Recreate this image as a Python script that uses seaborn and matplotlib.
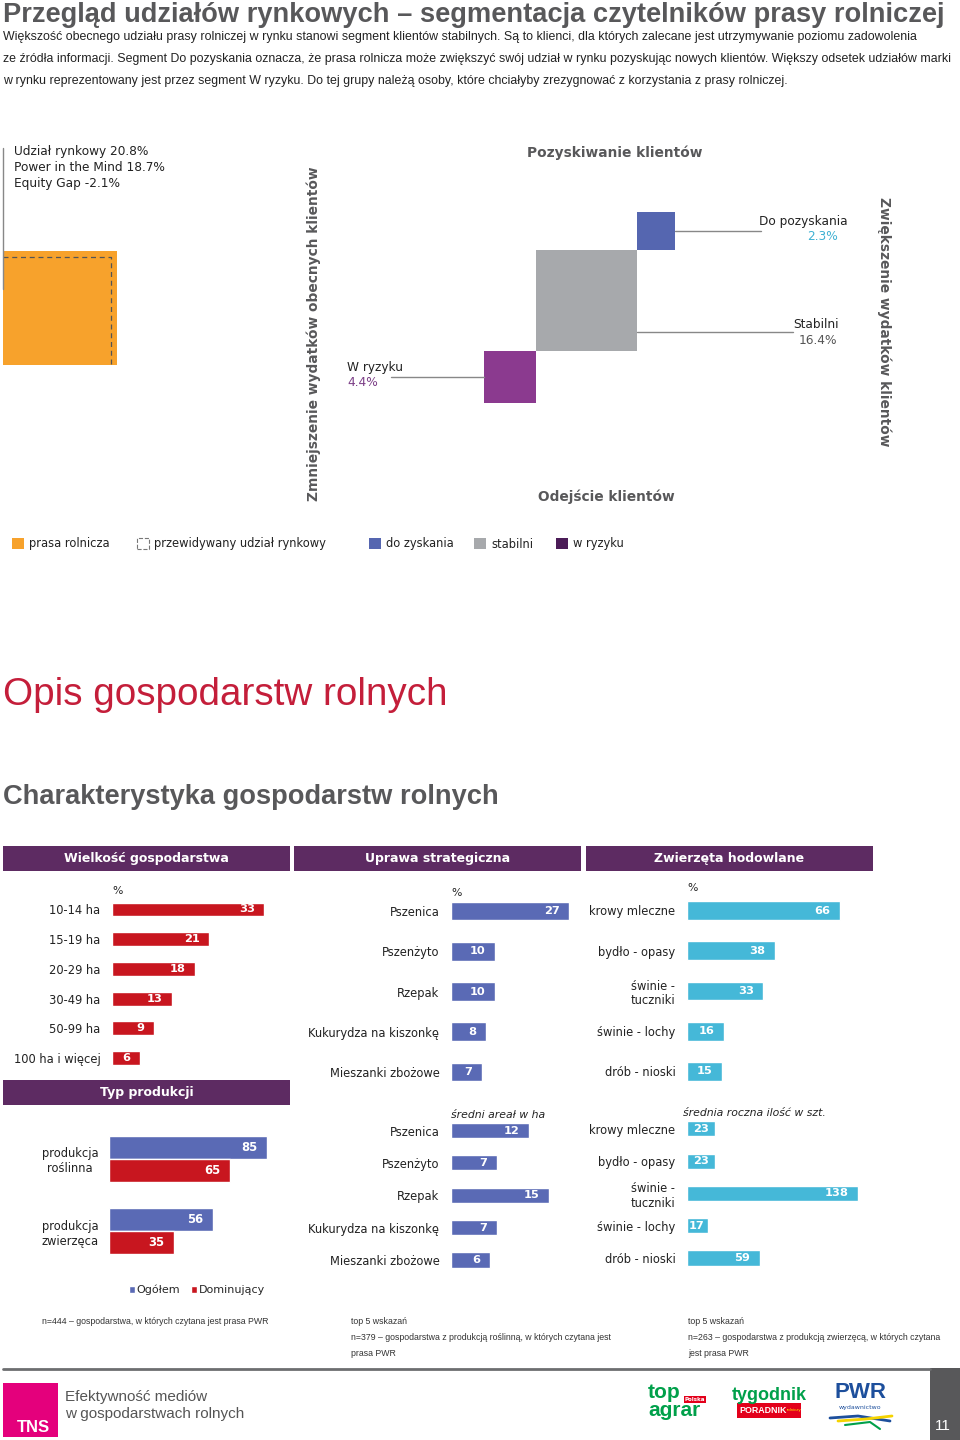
import numpy as np
import pandas as pd
import seaborn as sns
import matplotlib.pyplot as plt
from matplotlib.patches import Rectangle, Patch

sns.set_theme(style='white')
plt.rcParams['font.family'] = ['DejaVu Sans']
SANS = ['Liberation Sans', 'DejaVu Sans']   # stands in for the condensed headline face

# ---- data ----
title = 'Przegląd udziałów rynkowych – segmentacja czytelników prasy rolniczej'
intro = [
    'Większość obecnego udziału prasy rolniczej w rynku stanowi segment klientów stabilnych. Są to klienci, dla których zalecane jest utrzymywanie poziomu zadowolenia',
    'ze źródła informacji. Segment Do pozyskania oznacza, że prasa rolnicza może zwiększyć swój udział w rynku pozyskując nowych klientów. Większy odsetek udziałów marki',
    'w rynku reprezentowany jest przez segment W ryzyku. Do tej grupy należą osoby, które chciałyby zrezygnować z korzystania z prasy rolniczej.',
]

udzial_rynkowy = 20.8
power_in_mind = 18.7
equity_gap = -2.1
segment_names = ['W ryzyku', 'Stabilni', 'Do pozyskania']
segment_shares = [4.4, 16.4, 2.3]
segment_colors = ['#8b3a8f', '#a7a9ac', '#5566b0']

legend_labels = ['prasa rolnicza', 'przewidywany udział rynkowy', 'do zyskania', 'stabilni', 'w ryzyku']

wielkosc_labels = ['10-14 ha', '15-19 ha', '20-29 ha', '30-49 ha', '50-99 ha', '100 ha i więcej']
wielkosc_values = [33, 21, 18, 13, 9, 6]

uprawa_labels = ['Pszenica', 'Pszenżyto', 'Rzepak', 'Kukurydza na kiszonkę', 'Mieszanki zbożowe']
uprawa_pct = [27, 10, 10, 8, 7]
uprawa_areal = [12, 7, 15, 7, 6]

zwierzeta_labels = ['krowy mleczne', 'bydło - opasy', 'świnie -\ntuczniki', 'świnie - lochy', 'drób - nioski']
zwierzeta_pct = [66, 38, 33, 16, 15]
zwierzeta_szt = [23, 23, 138, 17, 59]

produkcja_labels = ['produkcja\nroślinna', 'produkcja\nzwierzęca']
produkcja_ogolem = [85, 56]
produkcja_dominujacy = [65, 35]

footnotes = [
    ['n=444 – gospodarstwa, w których czytana jest prasa PWR'],
    ['top 5 wskazań', 'n=379 – gospodarstwa z produkcją roślinną, w których czytana jest', 'prasa PWR'],
    ['top 5 wskazań', 'n=263 – gospodarstwa z produkcją zwierzęcą, w których czytana', 'jest prasa PWR'],
]

RED = '#c8161f'
BLUE = '#5a6ab5'
CYAN = '#45b8d8'
HEAD = '#5d2b62'
ORANGE = '#f7a22c'
GREY_TXT = '#58585a'

W, H = 960, 1440
fig = plt.figure(figsize=(9.6, 14.4), dpi=100)


def fx(x):
    return x / W


def fy(y):
    return 1 - y / H


def axes_px(x0, y0, x1, y1):
    ax = fig.add_axes([x0 / W, 1 - y1 / H, (x1 - x0) / W, (y1 - y0) / H])
    ax.patch.set_visible(False)
    return ax


def ftext(x, y, s, **kw):
    kw.setdefault('va', 'center')
    return fig.text(fx(x), fy(y), s, **kw)


# ---- header text ----
ftext(3, 22, title, fontsize=19.6, fontweight='bold', color=GREY_TXT, family=SANS, va='baseline')
for i, line in enumerate(intro):
    ftext(3, 37 + 22 * i, line, fontsize=8.95, color='#222222', family=SANS)

# ---- segmentation squares (side ~ sqrt of share) ----
S = 24.9  # px per sqrt(%)
ax = axes_px(0, 130, 960, 520)
ax.set_xlim(-484 / S, (960 - 484) / S)
ax.set_ylim((403 - 520) / S, (403 - 130) / S)
ax.axis('off')

sides = np.sqrt(segment_shares)
starts = np.concatenate([[0], np.cumsum(sides)[:-1]])
for st, sd, c in zip(starts, sides, segment_colors):
    ax.add_patch(Rectangle((st, st), sd, sd, color=c, lw=0))

ox, oy = (3 - 484) / S, (403 - 365) / S
so = np.sqrt(udzial_rynkowy)
ax.add_patch(Rectangle((ox, oy), so, so, color=ORANGE, lw=0))
sp = np.sqrt(power_in_mind)
ax.plot([ox, ox + sp, ox + sp], [oy + sp, oy + sp, oy], color='#555555', lw=0.9, ls=(0, (4, 3)))
ax.plot([ox, ox], [(403 - 289) / S, (403 - 148) / S], color='#888888', lw=1)

line_kw = dict(color='#888888', lw=1)
ax.plot([(391 - 484) / S, 0], [starts[0] + sides[0] / 2] * 2, **line_kw)
ax.plot([starts[2] + sides[2], (761 - 484) / S], [starts[2] + sides[2] / 2] * 2, **line_kw)
ax.plot([starts[1] + sides[1], (793 - 484) / S], [starts[1] + sides[1] * 0.19] * 2, **line_kw)

seg_fs = 8.7
ftext(14, 152, f'Udział rynkowy {udzial_rynkowy}%', fontsize=seg_fs, color='#222')
ftext(14, 167.5, f'Power in the Mind {power_in_mind}%', fontsize=seg_fs, color='#222')
ftext(14, 183, f'Equity Gap {equity_gap}%', fontsize=seg_fs, color='#222')

ftext(347, 367, segment_names[0], fontsize=seg_fs, color='#222')
ftext(347, 382, f'{segment_shares[0]}%', fontsize=seg_fs, color='#7b3d86')
ftext(848, 222, segment_names[2], fontsize=seg_fs, color='#222', ha='right')
ftext(838, 237, f'{segment_shares[2]}%', fontsize=seg_fs, color='#3fb1d3', ha='right')
ftext(839, 324, segment_names[1], fontsize=seg_fs, color='#222', ha='right')
ftext(837, 340, f'{segment_shares[1]}%', fontsize=seg_fs, color='#555', ha='right')

bold_kw = dict(fontsize=9.9, fontweight='bold', color=GREY_TXT)
ftext(615, 153, 'Pozyskiwanie klientów', ha='center', **bold_kw)
ftext(606, 497, 'Odejście klientów', ha='center', **bold_kw)
ftext(314, 334, 'Zmniejszenie wydatków obecnych klientów', ha='center', rotation=90, **bold_kw)
ftext(884, 322, 'Zwiększenie wydatków klientów', ha='center', rotation=270, **bold_kw)

leg_handles = [
    Patch(facecolor=ORANGE, edgecolor='none'),
    Patch(facecolor='white', edgecolor='#777777', linestyle='--', lw=0.8),
    Patch(facecolor='#5566b0', edgecolor='none'),
    Patch(facecolor='#a7a9ac', edgecolor='none'),
    Patch(facecolor='#4b1c57', edgecolor='none'),
]
for xpos, h, lab in zip([12, 137, 369, 474, 556], leg_handles, legend_labels):
    fig.legend([h], [lab], loc='center left', bbox_to_anchor=(fx(xpos), fy(544)),
               frameon=False, fontsize=8.3, handlelength=1.0, handleheight=1.0,
               handletextpad=0.5, borderpad=0, borderaxespad=0, labelcolor='#222')

# ---- section headings ----
ftext(3, 695, 'Opis gospodarstw rolnych', fontsize=27.8, color='#c41e3a', family=SANS)
ftext(3, 797, 'Charakterystyka gospodarstw rolnych', fontsize=19.6, fontweight='bold',
      color=GREY_TXT, family=SANS)

for (x0, x1, y0, y1, txt) in [(3, 290, 846, 871, 'Wielkość gospodarstwa'),
                              (294, 581, 846, 871, 'Uprawa strategiczna'),
                              (586, 873, 846, 871, 'Zwierzęta hodowlane'),
                              (3, 290, 1080, 1105, 'Typ produkcji')]:
    hx = axes_px(x0, y0, x1, y1)
    hx.patch.set_visible(True)
    hx.set_facecolor(HEAD)
    hx.set_xticks([])
    hx.set_yticks([])
    for s in hx.spines.values():
        s.set_visible(False)
    hx.text(0.5, 0.5, txt, transform=hx.transAxes, ha='center', va='center',
            color='white', fontweight='bold', fontsize=9)


def value_labels(ax, px_unit, size=8.2):
    for cont in ax.containers:
        for p in cont:
            v = p.get_width()
            txt = f'{v:.0f}'
            bar_px = v * px_unit
            text_px = 7.4 * len(txt)
            pad_px = min(9.5, max(1.5, (bar_px - text_px) / 2))
            ax.annotate(txt, (v, p.get_y() + p.get_height() / 2),
                        xytext=(-pad_px * 0.72, 0), textcoords='offset points', ha='right',
                        va='center', color='white', fontweight='bold', fontsize=size)


def style_axis(ax, pad):
    ax.set_xlabel('')
    ax.set_ylabel('')
    ax.set_xticks([])
    sns.despine(ax=ax, left=True, bottom=True)
    ax.tick_params(axis='y', length=0, pad=pad, labelsize=8.3, labelcolor='#222')
    for t in ax.get_yticklabels():
        t.set_multialignment('center')


def hbar(x0, x1, c0, c1, labels, values, color, px_unit, pad=8.3, note=None, note_dx=0,
         note_style='normal', note_dy=2):
    n = len(labels)
    step = (c1 - c0) / (n - 1)
    ax = axes_px(x0, c0 - step / 2, x1, c1 + step / 2)
    df = pd.DataFrame({'label': labels, 'value': values})
    sns.barplot(data=df, y='label', x='value', color=color, orient='h', width=0.47,
                saturation=1, ax=ax)
    ax.set_xlim(0, (x1 - x0) / px_unit)
    style_axis(ax, pad)
    value_labels(ax, px_unit)
    if note:
        ax.annotate(note, (0, 1), xycoords='axes fraction', xytext=(note_dx, note_dy),
                    textcoords='offset points', ha='left', va='bottom', fontsize=7.8,
                    style=note_style, color='#222')
    return ax


hbar(112, 290, 909.5, 1058, wielkosc_labels, wielkosc_values, RED, 4.62, note='%', note_dy=-1)
hbar(451, 581, 911, 1072, uprawa_labels, uprawa_pct, BLUE, 4.38, note='%', note_dy=-5)
hbar(687, 873, 910.5, 1071.5, zwierzeta_labels, zwierzeta_pct, CYAN, 2.318, note='%', note_dy=-2)
hbar(451, 581, 1130.5, 1260, uprawa_labels, uprawa_areal, BLUE, 6.5,
     note='średni areał w ha', note_style='italic', note_dy=-4)
hbar(687, 873, 1128.8, 1258, zwierzeta_labels, zwierzeta_szt, CYAN, 1.236,
     note='średnia roczna ilość w szt.', note_style='italic', note_dx=-3, note_dy=-4)

# typ produkcji - grouped bars
prod = pd.DataFrame({
    'label': produkcja_labels * 2,
    'value': produkcja_ogolem + produkcja_dominujacy,
    'grupa': ['Ogółem'] * 2 + ['Dominujący'] * 2,
})
step = 72.3
axp = axes_px(109, 1159 - step / 2, 290, 1231.3 + step / 2)
sns.barplot(data=prod, y='label', x='value', hue='grupa', palette=[BLUE, RED], orient='h',
            width=0.64, saturation=1, ax=axp)
axp.set_xlim(0, (290 - 109) / 1.855)
style_axis(axp, 7.5)
value_labels(axp, 1.855, size=8.4)
sns.move_legend(axp, 'center', bbox_to_anchor=(fx(197), fy(1290)), bbox_transform=fig.transFigure,
                ncol=2, frameon=False, title=None, fontsize=8, handlelength=0.55, handleheight=0.55,
                handletextpad=0.15, columnspacing=1.0)

# ---- footnotes ----
for x, lines in zip([42, 351, 688], footnotes):
    for i, line in enumerate(lines):
        ftext(x, 1322 + 15.5 * i, line, fontsize=6.3, color='#333', family=SANS)

# ---- footer ----
fax = axes_px(0, 1360, 960, 1440)
fax.set_xlim(0, 960)
fax.set_ylim(1440, 1360)
fax.axis('off')
fax.plot([3, 930], [1369, 1369], color='#6d6e70', lw=2)
fax.add_patch(Rectangle((930, 1368), 30, 72, color='#58585a', lw=0))
fax.text(943, 1426, '11', color='white', fontsize=11, ha='center', va='center', family=SANS)
fax.add_patch(Rectangle((3, 1383), 55, 54, color='#e4007c', lw=0))
fax.text(17, 1428, 'TNS', color='white', fontsize=12, fontweight='bold', ha='left', va='center',
         family=SANS)
fax.text(65, 1397, 'Efektywność mediów', color='#555', fontsize=11, va='center', family=SANS)
fax.text(65, 1414, 'w gospodarstwach rolnych', color='#555', fontsize=11, va='center', family=SANS)

GREEN = '#00a04a'
fax.text(648, 1393, 'top', color=GREEN, fontsize=15, fontweight='bold', va='center', family=SANS)
fax.text(648, 1410, 'agrar', color=GREEN, fontsize=15, fontweight='bold', va='center', family=SANS)
fax.add_patch(Rectangle((684, 1396), 22, 7, color='#e3001b', lw=0))
fax.text(695, 1399.5, 'Polska', color='white', fontsize=4, fontweight='bold', ha='center', va='center')
fax.text(769, 1395, 'tygodnik', color=GREEN, fontsize=13, fontweight='bold', ha='center', va='center',
         family=SANS)
fax.add_patch(Rectangle((737, 1403), 64, 15, color='#e3001b', lw=0))
fax.text(739, 1410.5, 'PORADNIK', color='white', fontsize=6.4, fontweight='bold', va='center',
         family=SANS)
fax.text(787, 1410.5, 'rolniczy', color='#ffdd00', fontsize=3.2, va='center', family=SANS)
fax.text(860, 1392, 'PWR', color='#1d4f9c', fontsize=16, fontweight='bold', ha='center', va='center',
         family=SANS)
fax.text(860, 1407, 'wydawnictwo', color='#1d4f9c', fontsize=4.5, ha='center', va='center')
fax.plot([830, 858, 890], [1418, 1416, 1421], color='#1d4f9c', lw=2)
fax.plot([838, 866, 892], [1421, 1419, 1416], color='#f5d300', lw=2)
fax.plot([845, 870, 880], [1425, 1422, 1429], color='#00a04a', lw=1.5)

fig.savefig('out.png', dpi=100)
